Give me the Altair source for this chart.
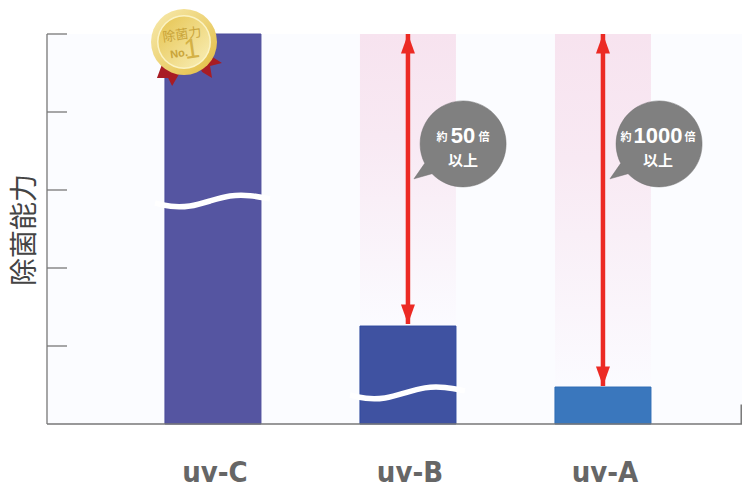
import altair as alt
import pandas as pd

categories = ["uv-C", "uv-B", "uv-A"]
positions = [0, 1, 2]
bar_values = [5.0, 1.256, 0.474]
bar_colors = ["#5555A1", "#3F52A1", "#3A77BD"]
edge_colors = ["#4D4D9C", "#2F4A9E", "#2F6DB5"]
band_positions = [1, 2]
band_bottoms = [1.256, 0.474]
tick_values = [1, 2, 3, 4, 5]
wave_offsets = [-0.297, -0.22, -0.118, -0.015, 0.087, 0.19, 0.292]
wave_c = [2.833, 2.782, 2.782, 2.859, 2.936, 2.936, 2.885]
wave_b = [0.372, 0.321, 0.321, 0.399, 0.476, 0.476, 0.425]

L, T = 47, 34
X0, X1 = -0.851, 2.713
xs = alt.Scale(domain=[X0, X1], nice=False, zero=False, padding=0)
ys = alt.Scale(domain=[0, 5], nice=False, zero=False, padding=0)
X = alt.X("x:Q", scale=xs, axis=None)
Y = alt.Y("y:Q", scale=ys, axis=None)
PX = alt.X("px:Q", scale=None, axis=None)
PY = alt.Y("py:Q", scale=None, axis=None)
GREY = "#777777"
FONT = "Noto Sans CJK JP"

bars_df = pd.DataFrame({"x": positions, "y": bar_values, "y0": 0, "name": categories,
                        "fill": bar_colors, "edge": edge_colors})
bands_df = pd.DataFrame({"x": band_positions, "y": [5, 5], "y0": band_bottoms})
ticks_df = pd.DataFrame({"x": [X0] * 5, "x2": [X0 + 20 / 195] * 5, "y": tick_values})

bands = alt.Chart(bands_df).mark_bar(
    size=96,
    color=alt.Gradient(
        gradient="linear", x1=0, y1=0, x2=0, y2=1,
        stops=[alt.GradientStop(offset=0, color="#F7E3EF"),
               alt.GradientStop(offset=0.35, color="#F8E9F3"),
               alt.GradientStop(offset=1, color="#FBFBFF")],
    ),
).encode(x=X, y=Y, y2="y0:Q")

bars = alt.Chart(bars_df).mark_bar(size=96, strokeWidth=1, cornerRadius=0).encode(
    x=X, y=Y, y2="y0:Q",
    fill=alt.Fill("fill:N", scale=None),
    stroke=alt.Stroke("edge:N", scale=None),
)

wave_df = pd.concat([
    pd.DataFrame({"x": wave_offsets, "y": wave_c, "s": "C"}),
    pd.DataFrame({"x": [v + 1 for v in wave_offsets], "y": wave_b, "s": "B"}),
])
waves = alt.Chart(wave_df).mark_line(color="white", strokeWidth=5.5, interpolate="basis").encode(
    x=X, y=Y, detail="s:N", order=alt.Order("x:Q"))

ticks = alt.Chart(ticks_df).mark_rule(color=GREY, strokeWidth=1.3).encode(x=X, x2="x2:Q", y=Y)
x_axis_line = alt.Chart(pd.DataFrame({"x": [X0], "x2": [X1], "y": [0]})).mark_rule(
    color=GREY, strokeWidth=1.6).encode(x=X, x2="x2:Q", y=Y)
y_axis_line = alt.Chart(pd.DataFrame({"x": [X0], "y": [0], "y2": [5]})).mark_rule(
    color=GREY, strokeWidth=1.3).encode(x=X, y=Y, y2="y2:Q")
end_tick = alt.Chart(pd.DataFrame({"x": [X1 - 0.004], "y": [0], "y2": [0.25]})).mark_rule(
    color=GREY, strokeWidth=1.5).encode(x=X, y=Y, y2="y2:Q")

y_title = alt.Chart(pd.DataFrame({"px": [26 - L], "py": [230 - T], "t": ["除菌能力"]})).mark_text(
    font=FONT, fontWeight=400, fontSize=28, color="#444444", angle=270, align="center", baseline="middle"
).encode(x=PX, y=PY, text="t:N")

# arrows
RED = "#EC2A24"
arrow_df = pd.DataFrame({"x": band_positions, "y": [5, 5], "y0": [1.256 + 2 / 78, 0.474 + 1 / 78]})
shafts = alt.Chart(arrow_df).mark_rule(color=RED, strokeWidth=4.5).encode(x=X, y=Y, y2="y0:Q")
HEAD_UP = "M0,0L0.5,1.4L-0.5,1.4Z"
HEAD_DOWN = "M0,0L0.5,-1.4L-0.5,-1.4Z"
up = alt.Chart(arrow_df).mark_point(shape=HEAD_UP, size=784, filled=True, color=RED, opacity=1).encode(x=X, y=Y)
down = alt.Chart(arrow_df).mark_point(shape=HEAD_DOWN, size=784, filled=True, color=RED, opacity=1).encode(
    x=X, y=alt.Y("y0:Q", scale=ys, axis=None))

# x labels
labels = alt.Chart(bars_df).mark_text(
    font="DejaVu Sans Condensed", fontWeight="bold", fontSize=29, color="#666666",
    baseline="alphabetic", dy=58, dx=2).encode(
    x=X, y=alt.Y("y0:Q", scale=ys, axis=None), text="name:N")

# bubbles
bubble_path = "M-0.89,0.45A1,1,0,1,1,-0.72,0.69L-1.14,0.81Z"
bubble_df = pd.DataFrame({"px": [463 - L, 659 - L], "py": [144 - T, 144 - T]})
bubbles = alt.Chart(bubble_df).mark_point(shape=bubble_path, size=7396, filled=True, color="#808080",
                                          opacity=1, stroke="#707070", strokeWidth=0.5).encode(x=PX, y=PY)
bubble_small = pd.DataFrame({"px": [442 - L, 484 - L, 626 - L, 690 - L], "py": [138 - T] * 4,
                             "t": ["約", "倍", "約", "倍"]})
bubble_big = pd.DataFrame({"px": [463 - L, 658 - L], "py": [136 - T] * 2, "t": ["50", "1000"]})
bubble_low = pd.DataFrame({"px": [463 - L, 658 - L], "py": [161 - T] * 2, "t": ["以上", "以上"]})
b_s = alt.Chart(bubble_small).mark_text(font=FONT, fontWeight="bold", fontSize=11, color="white").encode(
    x=PX, y=PY, text="t:N")
b_b = alt.Chart(bubble_big).mark_text(font="Liberation Sans", fontWeight="bold", fontSize=22, color="white").encode(
    x=PX, y=PY, text="t:N")
b_l = alt.Chart(bubble_low).mark_text(font=FONT, fontWeight="bold", fontSize=15, color="white").encode(
    x=PX, y=PY, text="t:N")

# medal
med = pd.DataFrame({"px": [184 - L], "py": [42 - T]})
ribbon_left = alt.Chart(med).mark_point(shape="M-0.6,0.5L-0.82,1.09L-0.48,1.09L-0.36,1.33L-0.15,0.97Z", size=4356,
                                        filled=True, color="#A81C24", opacity=1).encode(x=PX, y=PY)
ribbon_right = alt.Chart(med).mark_point(shape="M0.85,0.45L1.15,0.64L0.79,0.73L0.85,1.09L0.55,0.91L0.4,0.6Z", size=4356,
                                         filled=True, color="#A81C24", opacity=1).encode(x=PX, y=PY)
gold = alt.Gradient(gradient="linear", x1=0, y1=0, x2=1, y2=1,
                    stops=[alt.GradientStop(offset=0, color="#F8EBB0"),
                           alt.GradientStop(offset=1, color="#E2BC40")])
gold2 = alt.Gradient(gradient="linear", x1=0, y1=0, x2=1, y2=1,
                     stops=[alt.GradientStop(offset=0, color="#E6C450"),
                            alt.GradientStop(offset=1, color="#F9EFB8")])
def disc(size, color):
    return alt.Chart(med).mark_circle(size=size, color=color, opacity=1).encode(x=PX, y=PY)
outer = disc(4356, gold)
ring = disc(2916, "#FBF3C4")
inner = disc(2601, gold2)
med_a = pd.DataFrame({"px": [182 - L], "py": [35 - T], "t": ["除菌力"]})
med_b = pd.DataFrame({"px": [179 - L], "py": [54 - T], "t": ["No."]})
med_c = pd.DataFrame({"px": [193 - L], "py": [58 - T], "t": ["1"]})
medal_t1 = alt.Chart(med_a).mark_text(font=FONT, fontSize=13, color="#C9A43A", angle=352).encode(x=PX, y=PY, text="t:N")
medal_t2 = alt.Chart(med_b).mark_text(font="Liberation Sans", fontWeight="bold", fontSize=11, color="#C9A43A", angle=352).encode(x=PX, y=PY, text="t:N")
medal_t3 = alt.Chart(med_c).mark_text(font="Liberation Sans", fontSize=28, color="#D4B146", baseline="alphabetic", angle=352).encode(x=PX, y=PY, text="t:N")

chart = alt.layer(
    bands, bars, waves, y_axis_line, x_axis_line, ticks, end_tick, y_title, shafts, up, down, labels,
    bubbles, b_s, b_b, b_l, ribbon_left, ribbon_right, outer, ring, inner, medal_t1, medal_t2, medal_t3,
).properties(
    width=695, height=390, background="white",
    padding={"left": 39, "top": 26, "right": 0, "bottom": 66},
    autosize=alt.AutoSizeParams(type="none"),
).configure_view(fill="#FBFCFF", strokeWidth=0)

chart.save("out.html", embed_options={"renderer": "svg", "actions": False})
